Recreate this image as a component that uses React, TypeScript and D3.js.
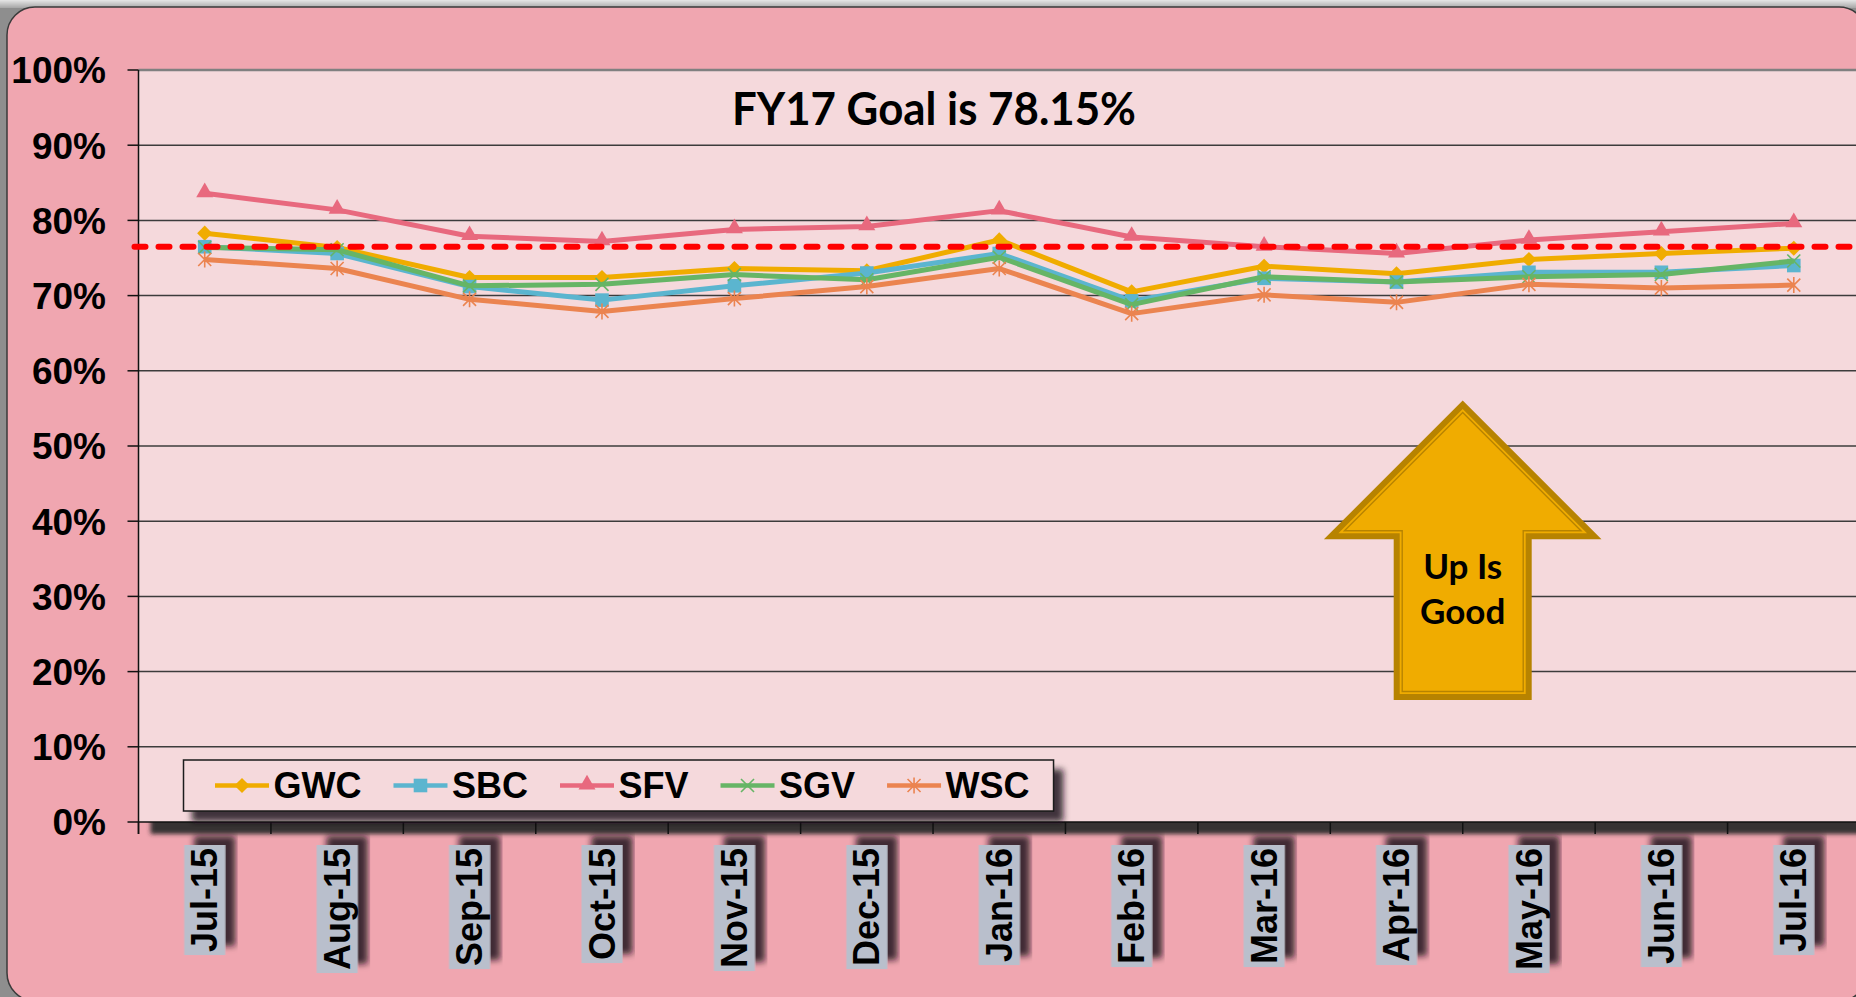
import React, { useEffect, useRef } from 'react';
import * as d3 from 'd3';

// monthly values (percent)
const months = ['Jul-15', 'Aug-15', 'Sep-15', 'Oct-15', 'Nov-15', 'Dec-15', 'Jan-16', 'Feb-16', 'Mar-16', 'Apr-16', 'May-16', 'Jun-16', 'Jul-16'];
const seriesNames = ['GWC', 'SBC', 'SFV', 'SGV', 'WSC'];
const gwc = [78.3, 76.4, 72.4, 72.4, 73.6, 73.3, 77.4, 70.5, 73.9, 72.9, 74.8, 75.6, 76.3];
const sbc = [76.5, 75.6, 71.2, 69.4, 71.3, 73.0, 75.6, 69.3, 72.3, 71.8, 73.1, 73.1, 74.0];
const sfv = [83.6, 81.4, 77.9, 77.2, 78.8, 79.2, 81.3, 77.8, 76.5, 75.6, 77.4, 78.5, 79.6];
const sgv = [76.4, 76.1, 71.3, 71.5, 72.8, 72.1, 75.1, 68.8, 72.5, 71.8, 72.5, 72.8, 74.6];
const wsc = [74.8, 73.6, 69.5, 67.9, 69.6, 71.2, 73.6, 67.6, 70.1, 69.1, 71.5, 71.0, 71.4];
const yTicks = [0, 10, 20, 30, 40, 50, 60, 70, 80, 90, 100];
const goalLine = 76.5;
const titleText = 'FY17 Goal is 78.15%';
const arrowText = ['Up Is', 'Good'];

const colors: Record<string, string> = {
    GWC: '#F0AC00',
    SBC: '#5BB5CF',
    SFV: '#E8697E',
    SGV: '#66B566',
    WSC: '#EB8450',
};

const W = 1856, H = 997;
const axisFont = "'Liberation Sans', Arial, sans-serif";

const drawMarker = (g: any, name: string, cx: number, cy: number) => {
    const c = colors[name];
    if (name === 'GWC') {
        g.append('path').attr('d', d3.symbol(d3.symbolSquare, 115)())
            .attr('transform', `translate(${cx},${cy}) rotate(45)`).attr('fill', c);
    } else if (name === 'SBC') {
        g.append('path').attr('d', d3.symbol(d3.symbolSquare, 185)())
            .attr('transform', `translate(${cx},${cy})`).attr('fill', c);
    } else if (name === 'SFV') {
        g.append('path').attr('d', d3.symbol(d3.symbolTriangle, 125)())
            .attr('transform', `translate(${cx},${cy - 1})`).attr('fill', c);
    } else if (name === 'SGV') {
        const r = 6.5;
        g.append('path').attr('d', `M${-r},${-r}L${r},${r}M${-r},${r}L${r},${-r}`)
            .attr('transform', `translate(${cx},${cy})`).attr('stroke', c).attr('stroke-width', 1.6).attr('fill', 'none');
    } else {
        const r = 6.5;
        g.append('path').attr('d', `M${-r},${-r}L${r},${r}M${-r},${r}L${r},${-r}M0,${-r - 1.5}L0,${r + 1.5}`)
            .attr('transform', `translate(${cx},${cy})`).attr('stroke', c).attr('stroke-width', 1.6).attr('fill', 'none');
    }
};

const createChart = (container: SVGSVGElement) => {
    const svg = d3.select(container);
    svg.selectAll('*').remove();
    svg.attr('width', W).attr('height', H);

    const defs = svg.append('defs');
    const shadow = (id: string, dx: number, dy: number, sd: number, color: string, op: number) => {
        const f = defs.append('filter').attr('id', id)
            .attr('x', '-10%').attr('y', '-10%').attr('width', '130%').attr('height', '140%');
        f.append('feDropShadow').attr('dx', dx).attr('dy', dy).attr('stdDeviation', sd)
            .attr('flood-color', color).attr('flood-opacity', op);
    };
    shadow('plotShadow', 12, 12, 2, '#2a2a2a', 0.95);
    shadow('boxShadow', 9, 10, 3, '#1c0c12', 0.82);

    const topGrad = defs.append('linearGradient').attr('id', 'topGrad')
        .attr('x1', 0).attr('y1', 0).attr('x2', 0).attr('y2', 1);
    topGrad.append('stop').attr('offset', 0).attr('stop-color', '#e6e6e6');
    topGrad.append('stop').attr('offset', 1).attr('stop-color', '#a6a6a6');

    // outer frame
    svg.append('rect').attr('width', W).attr('height', H).attr('fill', '#8e8e8e');
    svg.append('rect').attr('width', W).attr('height', 8).attr('fill', 'url(#topGrad)');
    svg.append('rect').attr('x', 7).attr('y', 7).attr('width', 1860).attr('height', 994).attr('rx', 28)
        .attr('fill', '#F0A6B0').attr('stroke', '#3a3a3a').attr('stroke-width', 1.5);

    const margin = { top: 70, left: 138.5, bottom: 822, right: 1860 };
    const x = d3.scaleBand().domain(months).range([margin.left, margin.right]);
    const y = d3.scaleLinear().domain([0, 100]).range([margin.bottom, margin.top]);
    const cxOf = (i: number) => (x(months[i]) as number) + x.bandwidth() / 2;

    // plot area
    svg.append('rect').attr('x', margin.left).attr('y', margin.top)
        .attr('width', margin.right - margin.left).attr('height', margin.bottom - margin.top)
        .attr('fill', '#F5D9DC').attr('filter', 'url(#plotShadow)');

    // gridlines
    svg.append('g').selectAll('line').data(yTicks.filter(t => t > 0)).enter().append('line')
        .attr('x1', margin.left).attr('x2', margin.right)
        .attr('y1', d => y(d)).attr('y2', d => y(d))
        .attr('stroke', d => d === 100 ? '#808080' : '#3c3c3c')
        .attr('stroke-width', d => d === 100 ? 2.5 : 1.5);

    // y axis
    const yAxis = svg.append('g');
    yAxis.append('line').attr('x1', margin.left).attr('x2', margin.left)
        .attr('y1', margin.top).attr('y2', margin.bottom + 12).attr('stroke', '#111').attr('stroke-width', 1.5);
    yAxis.selectAll('.tick').data(yTicks).enter().append('line')
        .attr('x1', margin.left - 11).attr('x2', margin.left)
        .attr('y1', d => y(d)).attr('y2', d => y(d)).attr('stroke', '#111').attr('stroke-width', 1.5);
    yAxis.selectAll('text').data(yTicks).enter().append('text')
        .attr('x', 106).attr('y', d => y(d)).attr('dy', '0.36em')
        .attr('text-anchor', 'end')
        .style('font-family', axisFont).style('font-weight', 'bold').style('font-size', '37px')
        .text(d => `${d}%`);

    // x axis
    const xAxis = svg.append('g');
    xAxis.append('line').attr('x1', margin.left).attr('x2', margin.right)
        .attr('y1', margin.bottom).attr('y2', margin.bottom).attr('stroke', '#111').attr('stroke-width', 1.5);
    xAxis.selectAll('.tick').data(months).enter().append('line')
        .attr('x1', d => x(d) as number).attr('x2', d => x(d) as number)
        .attr('y1', margin.bottom).attr('y2', margin.bottom + 12).attr('stroke', '#111').attr('stroke-width', 1.5);

    const labels = xAxis.selectAll('.lab').data(months).enter().append('g')
        .attr('transform', (d, i) => `translate(${cxOf(i)},848) rotate(-90)`);
    labels.each(function (d) {
        const g = d3.select(this);
        const box = g.append('rect').attr('fill', '#B9BFCC').attr('filter', 'url(#boxShadow)');
        const t = g.append('text').attr('x', 0).attr('y', 0).attr('dy', '0.35em')
            .attr('text-anchor', 'end')
            .style('font-family', axisFont).style('font-weight', 'bold').style('font-size', '36px')
            .text(d);
        const len = (t.node() as SVGTextElement).getComputedTextLength();
        box.attr('x', -len - 3).attr('y', -20.5).attr('width', len + 6).attr('height', 41);
    });

    // series
    const data: Record<string, number[]> = { GWC: gwc, SBC: sbc, SFV: sfv, SGV: sgv, WSC: wsc };
    const line = d3.line<number>().x((d, i) => cxOf(i)).y(d => y(d));
    const seriesG = svg.append('g');
    seriesNames.forEach(name => {
        seriesG.append('path').attr('d', line(data[name]))
            .attr('fill', 'none').attr('stroke', colors[name]).attr('stroke-width', 5)
            .attr('stroke-linejoin', 'round');
        data[name].forEach((v, i) => drawMarker(seriesG, name, cxOf(i), y(v)));
    });

    // goal line
    svg.append('line').attr('x1', margin.left - 4).attr('x2', W + 10)
        .attr('y1', y(goalLine)).attr('y2', y(goalLine))
        .attr('stroke', '#FF0000').attr('stroke-width', 6)
        .attr('stroke-dasharray', '11 13').attr('stroke-linecap', 'round');

    // title
    svg.append('text').attr('x', 934).attr('y', 125).attr('text-anchor', 'middle')
        .attr('textLength', 404).attr('lengthAdjust', 'spacingAndGlyphs')
        .style('font-family', 'Lato, "Open Sans", sans-serif').style('font-weight', 'bold').style('font-size', '45px')
        .text(titleText);

    // "Up Is Good" arrow
    const ax = 1462.7, tip0 = 400.5, base0 = 539.3, shaft0 = 69, bot0 = 700;
    const arrowPts = (d: number) => {
        const tip = tip0 + d * Math.SQRT2;
        const base = base0 - d;
        const hw = base - tip;
        const sh = shaft0 - d;
        const bot = bot0 - d;
        return [[ax, tip], [ax + hw, base], [ax + sh, base], [ax + sh, bot], [ax - sh, bot], [ax - sh, base], [ax - hw, base]]
            .map(p => p.join(',')).join(' ');
    };
    const arrow = svg.append('g');
    arrow.append('polygon').attr('points', arrowPts(0)).attr('fill', '#B78300');
    arrow.append('polygon').attr('points', arrowPts(6)).attr('fill', '#F0AC00');
    arrow.append('polygon').attr('points', arrowPts(8.5)).attr('fill', 'none')
        .attr('stroke', '#B78300').attr('stroke-width', 1.4);
    arrow.selectAll('text').data(arrowText).enter().append('text')
        .attr('x', ax).attr('y', (d, i) => 579 + i * 45).attr('text-anchor', 'middle')
        .style('font-family', 'Lato, "Open Sans", sans-serif').style('font-weight', 'bold').style('font-size', '35px')
        .text(d => d);

    // legend
    const legend = svg.append('g');
    const legBox = legend.append('rect').attr('x', 183.5).attr('y', 760).attr('height', 51)
        .attr('fill', '#F5D9DC').attr('stroke', '#1a1a1a').attr('stroke-width', 1.5)
        .attr('filter', 'url(#boxShadow)');
    let sx = 215;
    const ly = 785.5;
    seriesNames.forEach(name => {
        legend.append('line').attr('x1', sx).attr('x2', sx + 54).attr('y1', ly).attr('y2', ly)
            .attr('stroke', colors[name]).attr('stroke-width', 4.5);
        drawMarker(legend, name, sx + 27, ly);
        const t = legend.append('text').attr('x', sx + 58.5).attr('y', ly).attr('dy', '0.36em')
            .style('font-family', axisFont).style('font-weight', 'bold').style('font-size', '36px')
            .text(name);
        const len = (t.node() as SVGTextElement).getComputedTextLength();
        sx = sx + 58.5 + len + 32;
    });
    legBox.attr('width', sx - 32 + 24 - 183.5);
};

const App = () => {
    const ref = useRef<SVGSVGElement>(null);

    useEffect(() => {
        if (ref.current) {
            createChart(ref.current);
        }
    }, []);

    return (
        <div>
            <svg ref={ref} style={{ position: 'absolute', left: 0, top: 0, display: 'block' }} />
        </div>
    );
};

export default App;
